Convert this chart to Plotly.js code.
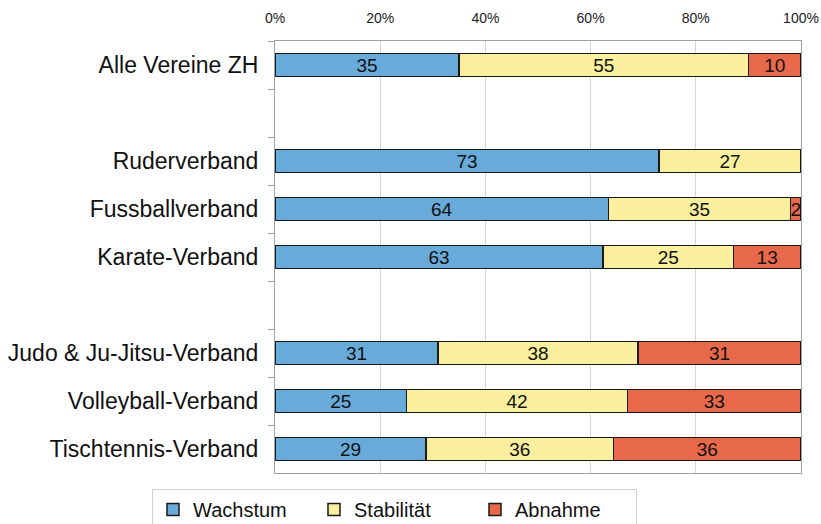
<!DOCTYPE html>
<html>
<head>
<meta charset="utf-8">
<script src="https://cdn.plot.ly/plotly-3.0.1.min.js"></script>
<style>html,body{margin:0;padding:0;background:#fff;}#chart{width:821px;height:524px;}</style>
</head>
<body>
<div id="chart"></div>
<script>
const categories = ["Alle Vereine ZH", " ", "Ruderverband", "Fussballverband", "Karate-Verband", "  ", "Judo & Ju-Jitsu-Verband", "Volleyball-Verband", "Tischtennis-Verband"];
const wachstum    = [35, null, 73, 64, 63, null, 31, 25, 29];
const stabilitaet = [55, null, 27, 35, 25, null, 38, 42, 36];
const abnahme     = [10, null, 0, 2, 13, null, 31, 33, 36];
const seriesNames = ["Wachstum", "Stabilität", "Abnahme"];
const xTickVals = [0, 20, 40, 60, 80, 100];
const xTickText = ["0%", "20%", "40%", "60%", "80%", "100%"];

const colors = ["#68AAD9", "#F9EF9C", "#E8684A"];
const series = [wachstum, stabilitaet, abnahme];

const traces = series.map((vals, i) => ({
  type: 'bar',
  orientation: 'h',
  name: seriesNames[i],
  y: categories,
  x: vals,
  text: vals.map(v => (v === null || v === 0) ? '' : String(v)),
  texttemplate: '%{text}',
  textposition: 'inside',
  insidetextanchor: 'middle',
  textangle: 0,
  textfont: {family: 'Liberation Sans, Arial, sans-serif', size: 19, color: '#111'},
  marker: {color: colors[i], line: {color: '#1a1a1a', width: 1.5}},
  hoverinfo: 'skip'
}));

const layout = {
  width: 821, height: 524,
  margin: {l: 275, r: 20, t: 41, b: 51},
  paper_bgcolor: '#fff', plot_bgcolor: '#fff',
  barmode: 'stack',
  barnorm: 'percent',
  bargap: 0.52,
  font: {family: 'Liberation Sans, Arial, sans-serif', color: '#111'},
  uniformtext: {minsize: 19, mode: 'show'},
  xaxis: {
    side: 'top', range: [0, 100], tickmode: 'array', tickvals: xTickVals, ticktext: xTickText,
    tickfont: {size: 14, color: '#222'}, ticklabelstandoff: 11,
    showgrid: true, gridcolor: '#d6d6d6', gridwidth: 1,
    showline: true, linecolor: '#a0a0a0', linewidth: 1, mirror: true,
    ticks: '', zeroline: false, fixedrange: true
  },
  yaxis: {
    type: 'category', categoryarray: categories, autorange: 'reversed',
    tickson: 'boundaries', ticks: 'outside', ticklen: 6, tickcolor: '#a0a0a0',
    ticklabelstandoff: 11,
    tickfont: {size: 23, color: '#111'},
    showgrid: false, showline: true, linecolor: '#a0a0a0', linewidth: 1, mirror: true,
    fixedrange: true
  },
  showlegend: true,
  legend: {
    orientation: 'h', xref: 'container', yref: 'container',
    x: 152 / 821, xanchor: 'left', y: (524 - 489) / 524, yanchor: 'top',
    bordercolor: '#cfcfcf', borderwidth: 1, bgcolor: '#fff',
    font: {size: 20, color: '#111'}, traceorder: 'normal',
    entrywidth: 116, entrywidthmode: 'pixels', itemwidth: 30
  }
};

Plotly.newPlot('chart', traces, layout, {displayModeBar: false, staticPlot: true});
</script>
</body>
</html>
